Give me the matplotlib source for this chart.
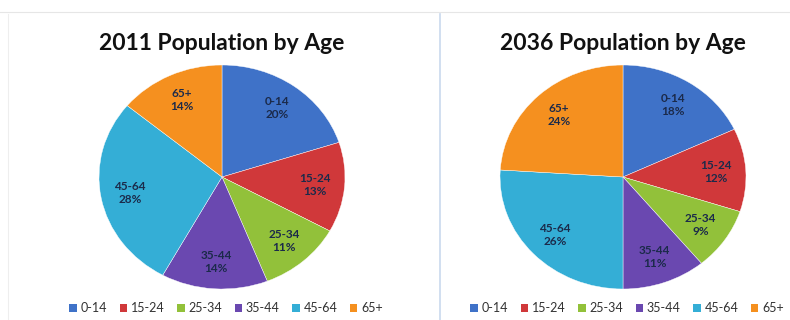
import matplotlib
matplotlib.use("Agg")
import matplotlib.pyplot as plt
import numpy as np
from matplotlib.lines import Line2D
from matplotlib.patches import Patch

plt.rcParams['font.family'] = ['Lato', 'DejaVu Sans']

categories = ["0-14", "15-24", "25-34", "35-44", "45-64", "65+"]
values_2011 = [20, 13, 11, 14, 28, 14]
values_2036 = [18, 12, 9, 11, 26, 24]
titles = ["2011 Population by Age", "2036 Population by Age"]
colors = ["#3F72C8", "#D0383A", "#92C13A", "#6A48B0", "#34AED6", "#F5901F"]

W, H = 790, 320
fig = plt.figure(figsize=(7.9, 3.2), dpi=100)
fig.patch.set_facecolor("white")

centers = [(222, 177), (623, 177)]
rx, ry = 123, 112

for (cx, cy), vals, title in zip(centers, [values_2011, values_2036], titles):
    ax = fig.add_axes([(cx - rx) / W, (H - cy - ry) / H, 2 * rx / W, 2 * ry / H])
    wedges, _ = ax.pie(vals, colors=colors, startangle=90, counterclock=False,
                       wedgeprops=dict(edgecolor="white", linewidth=0.3))
    ax.set_aspect("auto")
    ax.set_xlim(-1, 1)
    ax.set_ylim(-1, 1)
    for w, cat, v in zip(wedges, categories, vals):
        mid = np.deg2rad((w.theta1 + w.theta2) / 2)
        d = 0.76
        ax.text(d * np.cos(mid), d * np.sin(mid), f"{cat}\n{v}%",
                ha="center", va="center", fontsize=8.5, fontweight="bold",
                color="#1B2A4A", linespacing=1.25)
    fig.text(cx / W, 1 - 43 / H, title, ha="center", va="center",
             fontsize=16.5, fontweight="bold", color="#111111")
    handles = [Patch(facecolor=c, edgecolor="none") for c in colors]
    fig.legend(handles, categories, loc="center", ncol=6,
               bbox_to_anchor=((cx + 4) / W, 1 - 308 / H), frameon=False,
               fontsize=9, handlelength=0.6, handleheight=0.6,
               handletextpad=0.3, columnspacing=1.0, labelcolor="#333333")

# panel borders
fig.add_artist(Line2D([0, 1], [1 - 12 / H, 1 - 12 / H], color="#E6E6E6", lw=0.8))
fig.add_artist(Line2D([440 / W, 440 / W], [0, 1 - 14 / H], color="#C9D9EE", lw=1.2))
fig.add_artist(Line2D([8 / W, 8 / W], [0, 1 - 14 / H], color="#EEEEEE", lw=0.8))

fig.savefig("out.png", dpi=100, facecolor="white")
